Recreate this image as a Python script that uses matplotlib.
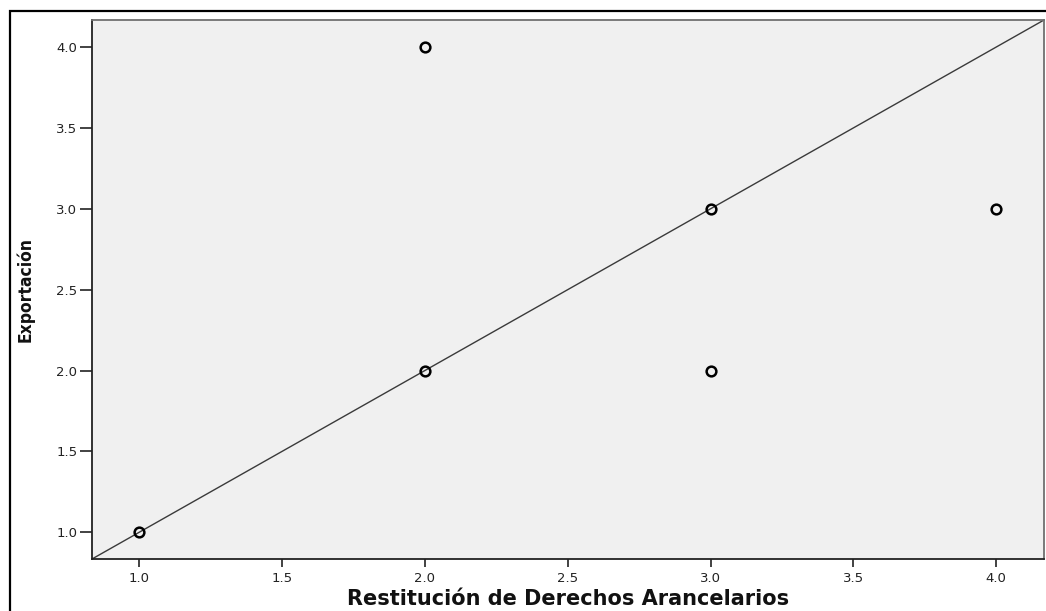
import numpy as np
import matplotlib.pyplot as plt
from matplotlib.patches import Rectangle

plt.rcParams["font.family"] = ["DejaVu Sans"]

restitucion = [1.0, 2.0, 2.0, 3.0, 3.0, 4.0]
exportacion = [1.0, 2.0, 4.0, 3.0, 2.0, 3.0]
ticks = [1.0, 1.5, 2.0, 2.5, 3.0, 3.5, 4.0]
lims = (0.835, 4.167)

W, H = 1046, 611
fig = plt.figure(figsize=(W / 100, H / 100), dpi=100)
ax = fig.add_axes([92/W, 1-559/H, (1044-92)/W, (559-20)/H])
ax.set_facecolor("#f0f0f0")

# outer frame (cut off at right / bottom like the original export)
fig.patches.append(Rectangle((10/W, -0.2), 1.2, 1.2 - 11/H, transform=fig.transFigure,
                             fill=False, edgecolor="black", linewidth=1.6))

ax.plot(lims, lims, color="#3a3a3a", linewidth=1.0, zorder=1)
ax.plot(restitucion, exportacion, linestyle="none", marker="o", markersize=7,
        markerfacecolor="none", markeredgecolor="black", markeredgewidth=1.8, zorder=3)

ax.set_xlim(lims)
ax.set_ylim(lims)
ax.set_xticks(ticks)
ax.set_yticks(ticks)
ax.set_xticklabels([f"{t:.1f}" for t in ticks])
ax.set_yticklabels([f"{t:.1f}" for t in ticks])
ax.tick_params(axis="y", direction="out", length=8.5, width=1.2, pad=2, labelsize=9.5, colors="#222222")
ax.tick_params(axis="x", direction="out", length=6, width=1.2, pad=3, labelsize=9.5, colors="#222222")

for side in ["left", "bottom"]:
    ax.spines[side].set_color("#222222")
    ax.spines[side].set_linewidth(1.3)
for side in ["top", "right"]:
    ax.spines[side].set_color("#707070")
    ax.spines[side].set_linewidth(1.3)

fig.text((92 + 1044) / 2 / W, 1 - 589/H, "Restitución de Derechos Arancelarios",
         fontsize=15, fontweight="bold", ha="center", va="top", color="#111111")
fig.text(25/W, 1 - 290/H, "Exportación", rotation=90, fontsize=12.5, fontweight="bold",
         fontstretch="condensed", ha="center", va="center", color="#111111")

fig.savefig("out.png", dpi=100)
